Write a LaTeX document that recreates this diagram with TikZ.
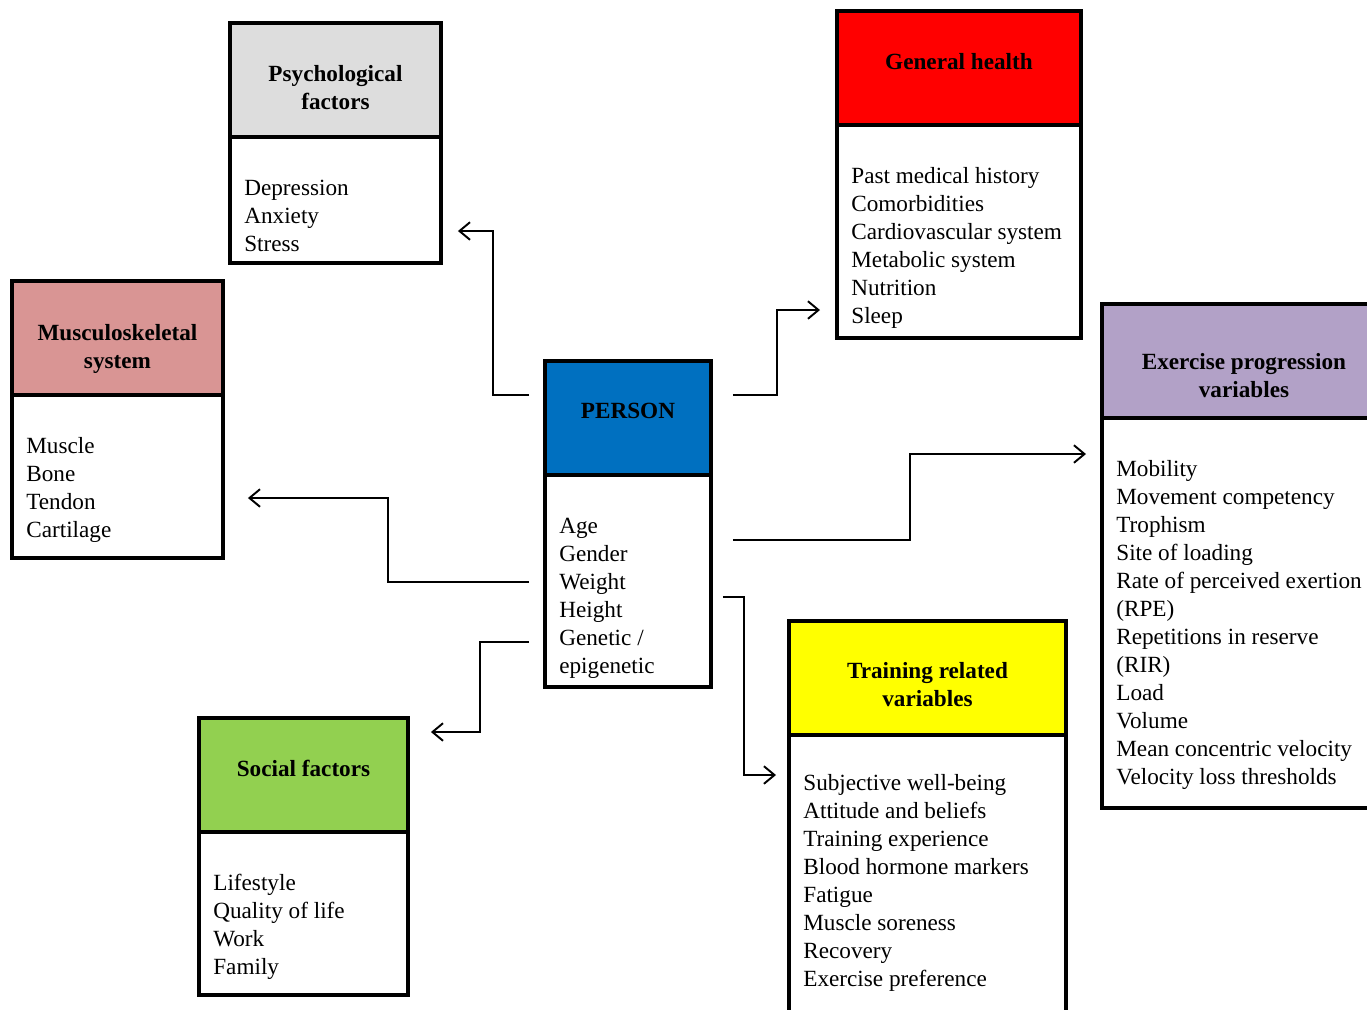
\documentclass[tikz,border=0pt]{standalone}
\usepackage{fontspec}
\setmainfont{Liberation Serif}
\usetikzlibrary{positioning,arrows.meta}

\definecolor{psycol}{RGB}{221,221,221}
\definecolor{gencol}{RGB}{255,0,0}
\definecolor{muscol}{RGB}{217,149,148}
\definecolor{percol}{RGB}{0,112,192}
\definecolor{execol}{RGB}{178,161,199}
\definecolor{tracol}{RGB}{255,255,0}
\definecolor{soccol}{RGB}{146,208,80}
\newcommand{\boxfont}{\fontsize{13.2pt}{15.9pt}\selectfont}

\begin{document}
\begin{tikzpicture}[x=0.02cm, y=-0.02cm,
    head/.style={draw, line width=2.2pt, inner sep=0pt, outer sep=0pt, minimum height=2.28cm},
    title/.style={inner sep=0pt, align=center, font=\boxfont\bfseries},
    body/.style={draw, fill=white, line width=2.2pt, inner sep=0pt, outer sep=0pt},
    items/.style={inner sep=0pt, align=left, anchor=north west, font=\boxfont},
    link/.style={line width=1.1pt, -{Straight Barb[length=6pt,width=10pt]}}]

    \path[use as bounding box, fill=white] (0,0) rectangle (1367,1009);

    % Psychological factors
    \node[head, fill=psycol, minimum width=4.22cm, anchor=north west] (psy) at (230,23) {};
    \node[title] (psyt) at ([shift={(0,8)}]psy.center) {Psychological\\factors};
    \node[body, minimum width=4.22cm, minimum height=2.52cm, below=0pt of psy] (psyb) {};
    \node[items] (psyl) at ([shift={(14,39)}]psyb.north west) {\strut Depression\\Anxiety\\Stress};

    % General health
    \node[head, fill=gencol, minimum width=4.88cm, anchor=north west] (gen) at (837,11) {};
    \node[title] (gent) at ([shift={(0,-6)}]gen.center) {General health};
    \node[body, minimum width=4.88cm, minimum height=4.26cm, below=0pt of gen] (genb) {};
    \node[items] (genl) at ([shift={(14,39)}]genb.north west) {\strut Past medical history\\Comorbidities\\Cardiovascular system\\Metabolic system\\Nutrition\\Sleep};

    % Musculoskeletal system
    \node[head, fill=muscol, minimum width=4.22cm, anchor=north west] (mus) at (12,281) {};
    \node[title] (must) at ([shift={(0,11)}]mus.center) {Musculoskeletal\\system};
    \node[body, minimum width=4.22cm, minimum height=3.26cm, below=0pt of mus] (musb) {};
    \node[items] (musl) at ([shift={(14,39)}]musb.north west) {\strut Muscle\\Bone\\Tendon\\Cartilage};

    % Person
    \node[head, fill=percol, minimum width=3.32cm, anchor=north west] (per) at (545,361) {};
    \node[title] (pert) at ([shift={(0,-7)}]per.center) {PERSON};
    \node[body, minimum width=3.32cm, minimum height=4.24cm, below=0pt of per] (perb) {};
    \node[items] (perl) at ([shift={(14,39)}]perb.north west) {\strut Age\\Gender\\Weight\\Height\\Genetic /\\epigenetic};

    % Exercise progression variables
    \node[head, fill=execol, minimum width=5.4cm, anchor=north west] (exe) at (1102,304) {};
    \node[title] (exet) at ([shift={(7,15)}]exe.center) {Exercise progression\\variables};
    \node[body, minimum width=5.4cm, minimum height=7.8cm, below=0pt of exe] (exeb) {};
    \node[items] (exel) at ([shift={(14,39)}]exeb.north west) {\strut Mobility\\Movement competency\\Trophism\\Site of loading\\Rate of perceived exertion\\(RPE)\\Repetitions in reserve\\(RIR)\\Load\\Volume\\Mean concentric velocity\\Velocity loss thresholds};

    % Training related variables
    \node[head, fill=tracol, minimum width=5.54cm, anchor=north west] (tra) at (789,621) {};
    \node[title] (trat) at ([shift={(0,7)}]tra.center) {Training related\\variables};
    \node[body, minimum width=5.54cm, minimum height=5.54cm, below=0pt of tra] (trab) {};
    \node[items] (tral) at ([shift={(14,36)}]trab.north west) {\strut Subjective well-being\\Attitude and beliefs\\Training experience\\Blood hormone markers\\Fatigue\\Muscle soreness\\Recovery\\Exercise preference};

    % Social factors
    \node[head, fill=soccol, minimum width=4.18cm, anchor=north west] (soc) at (199,718) {};
    \node[title] (soct) at ([shift={(0,-7)}]soc.center) {Social factors};
    \node[body, minimum width=4.18cm, minimum height=3.26cm, below=0pt of soc] (socb) {};
    \node[items] (socl) at ([shift={(14,39)}]socb.north west) {\strut Lifestyle\\Quality of life\\Work\\Family};

    % Connections
    \draw[link, shorten <=0.32cm, shorten >=0.34cm] (per.west |- 0,395) -| (493,231) -- (psyb.east |- 0,231);
    \draw[link, shorten <=0.44cm, shorten >=0.34cm] (per.east |- 0,395) -| (777,310) -- (genb.west |- 0,310);
    \draw[link, shorten <=0.44cm, shorten >=0.32cm] (perb.east |- 0,540) -| (910,454) -- (exeb.west |- 0,454);
    \draw[link, shorten <=0.32cm, shorten >=0.5cm] (perb.west |- 0,582) -| (388,498) -- (musb.east |- 0,498);
    \draw[link, shorten <=0.32cm, shorten >=0.46cm] (perb.west |- 0,642) -| (480,732) -- (soc.east |- 0,732);
    \draw[link, shorten <=0.24cm, shorten >=0.26cm] (perb.east |- 0,597) -| (744,775) -- (trab.west |- 0,775);

\end{tikzpicture}
\end{document}
